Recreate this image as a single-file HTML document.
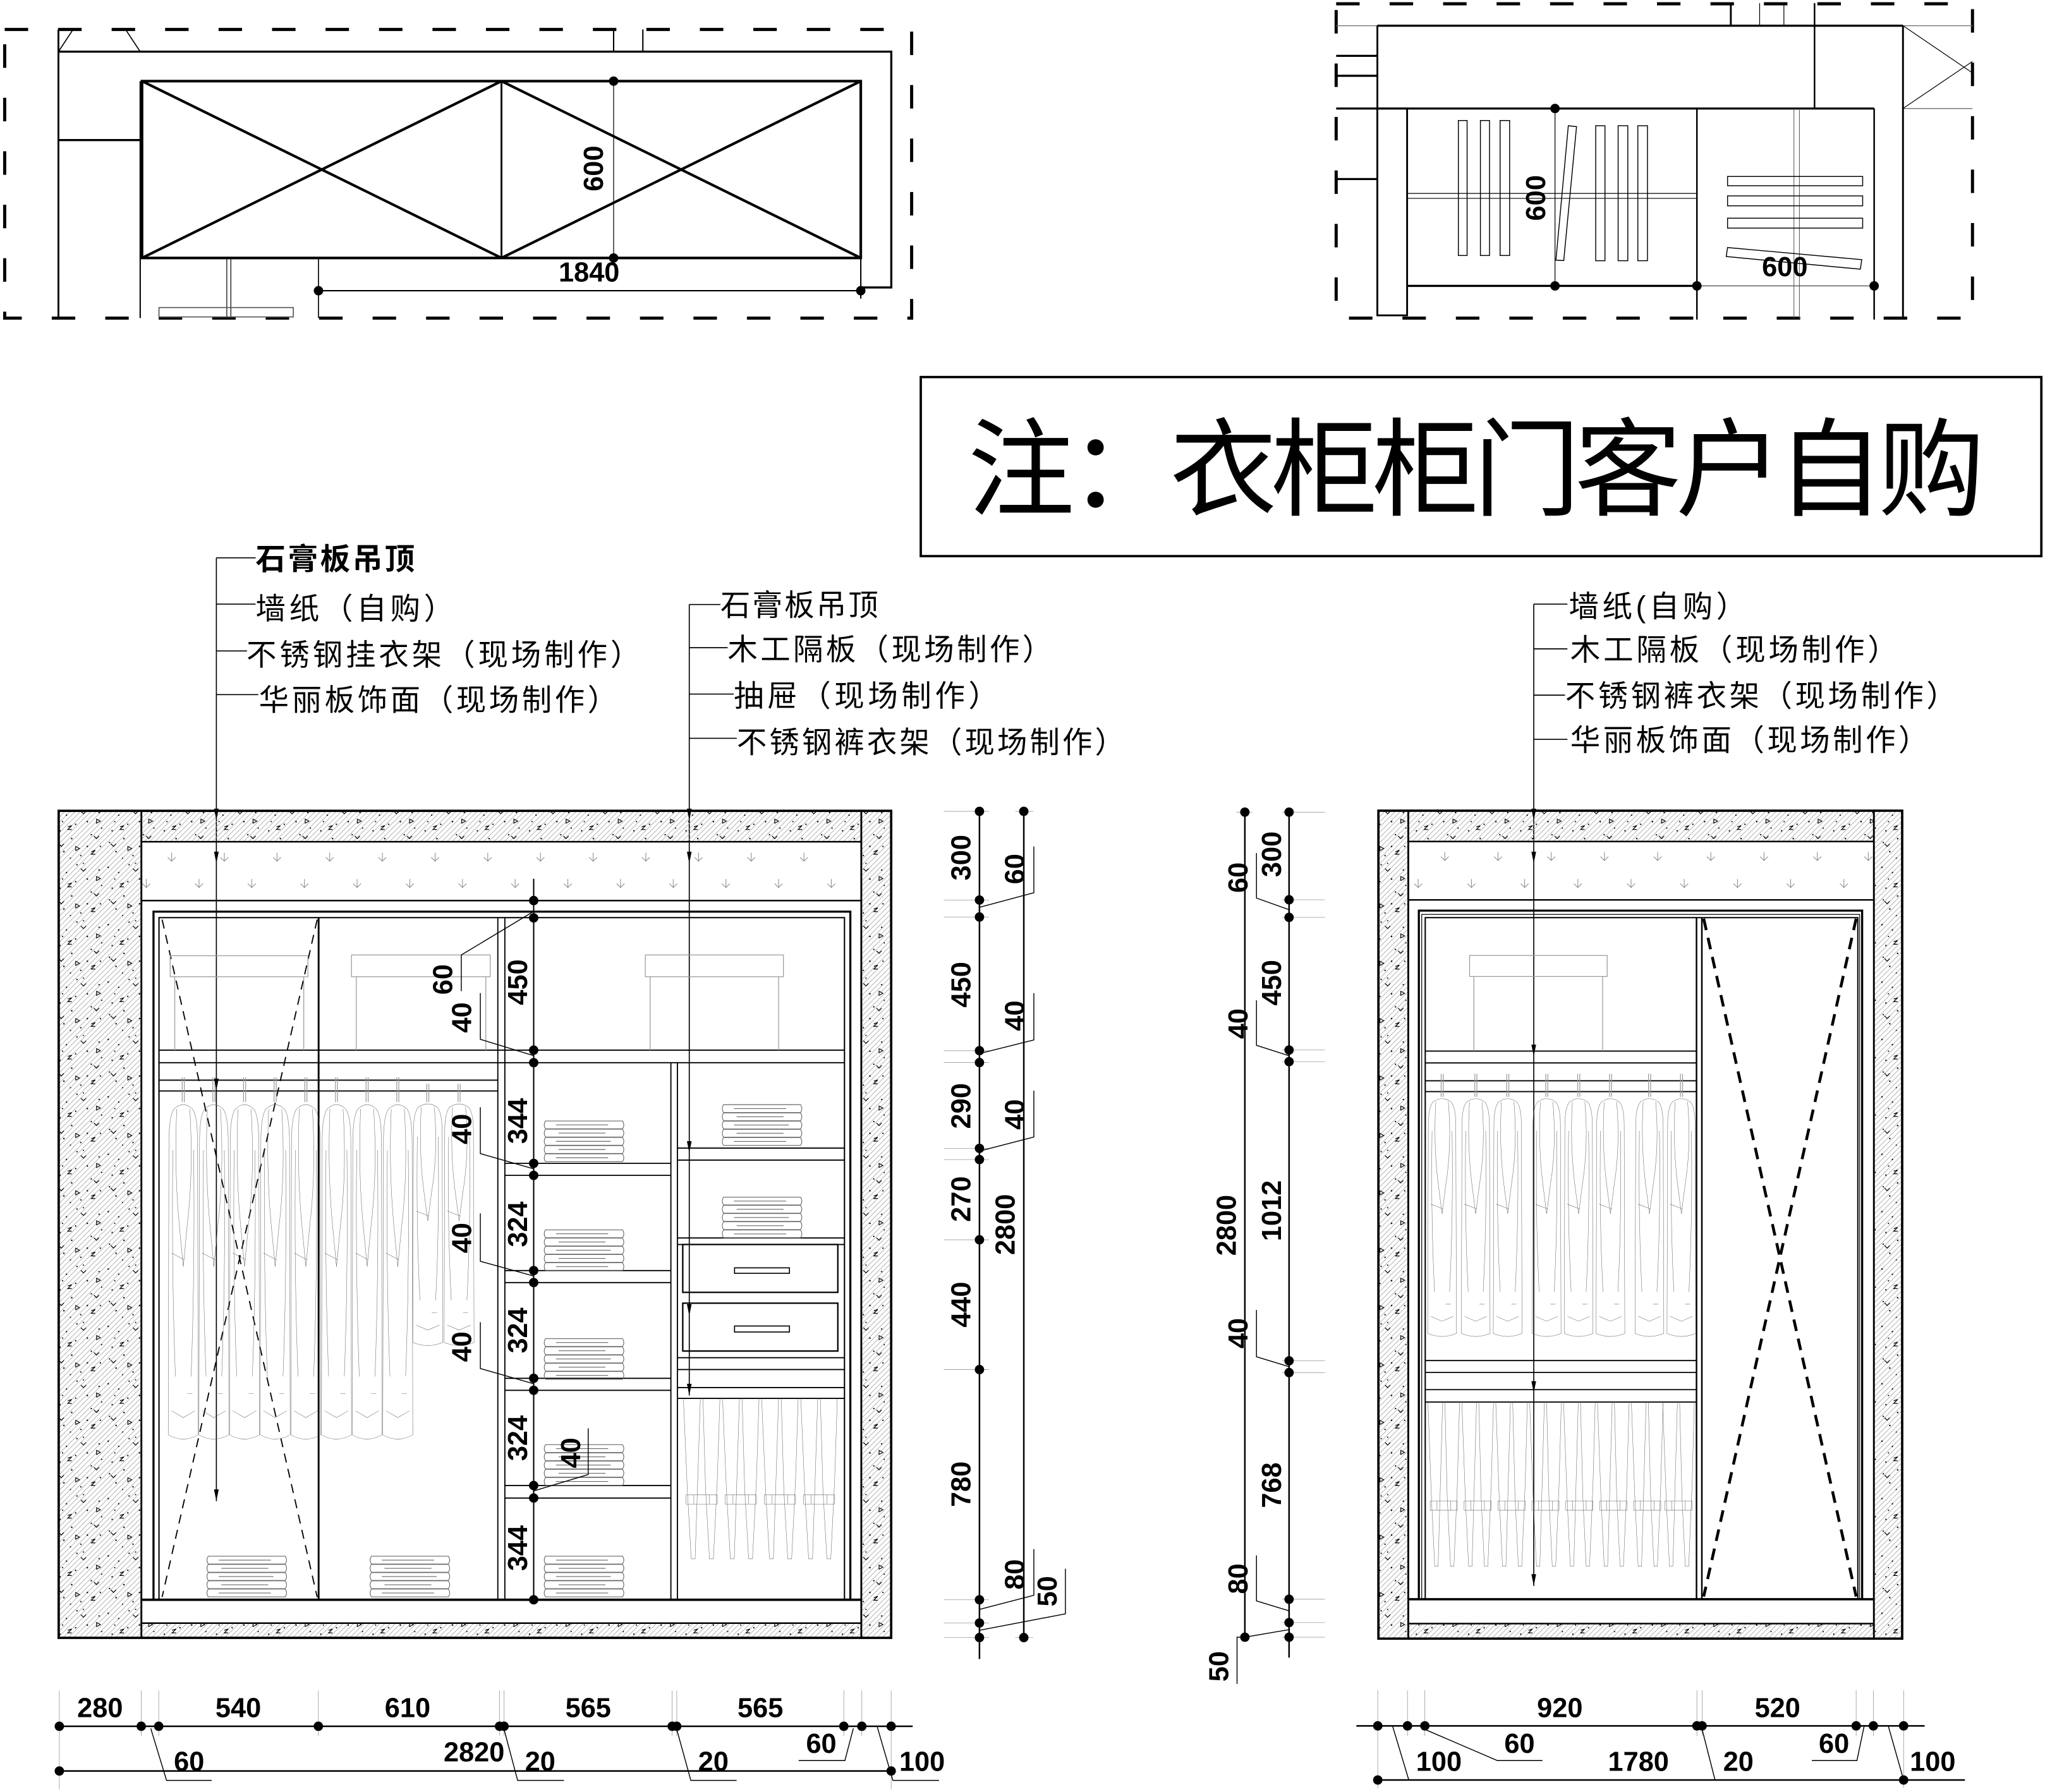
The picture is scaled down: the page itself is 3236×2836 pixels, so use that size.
<!DOCTYPE html>
<html><head><meta charset="utf-8"><title>衣柜立面图</title>
<style>
html,body{margin:0;padding:0;background:#fff;}
svg{display:block;}
.d{font-family:"Liberation Sans",sans-serif;font-weight:bold;font-size:21px;fill:#000;}
.c{font-family:"Liberation Sans","Noto Sans CJK SC",sans-serif;font-size:23px;fill:#000;}
</style></head>
<body>
<svg xmlns="http://www.w3.org/2000/svg" xmlns:xlink="http://www.w3.org/1999/xlink" width="3236" height="2836" viewBox="0 0 1568 1374" preserveAspectRatio="none">
<defs>
<pattern id="ht" patternUnits="userSpaceOnUse" width="4" height="4"><path d="M-1,5 L5,-1 M-1,1 L1,-1 M3,5 L5,3" stroke="#a2a2a2" stroke-width="0.38"/></pattern>
<pattern id="sp" patternUnits="userSpaceOnUse" width="40" height="44">
<g fill="#000"><circle cx="3" cy="5" r="0.6"/><circle cx="11" cy="9" r="0.55"/><circle cx="19" cy="3" r="0.55"/><circle cx="27" cy="14" r="0.6"/><circle cx="36" cy="7" r="0.55"/><circle cx="6" cy="21" r="0.55"/><circle cx="15" cy="27" r="0.6"/><circle cx="30" cy="24" r="0.55"/><circle cx="37" cy="33" r="0.55"/><circle cx="9" cy="37" r="0.6"/><circle cx="22" cy="40" r="0.55"/><circle cx="4" cy="30" r="0.55"/><circle cx="18" cy="16" r="0.55"/><circle cx="27" cy="33" r="0.6"/><circle cx="38" cy="19" r="0.5"/><circle cx="14" cy="42" r="0.5"/><circle cx="24" cy="2" r="0.5"/><circle cx="8" cy="14" r="0.5"/></g>
<path d="M12,18 l3,-1 l-3,3 l3,0 M30,37 l3,-1 l-3,3 l3,0 M22,6 l2,2 l2,-2 M5,31 l2,2 l2,-2 M32,25 l2,2 l2,-2" stroke="#000" stroke-width="0.6" fill="none"/>
<path d="M34,12 l3,1.6 l-3,1.6 z M18,33 l3,1.6 l-3,1.6 z" stroke="#000" stroke-width="0.55" fill="none"/>
</pattern>
<path id="vs" d="M0,-3.5 V3 M-3,0 L0,3 L3,0" stroke="#8a8a8a" fill="none" stroke-width="0.5"/>
<path id="ar" d="M-1.8,-9 L1.8,-9 L0,0 Z" fill="#000"/>
<symbol id="coat" viewBox="0 0 24 100" preserveAspectRatio="none" overflow="visible">
<path d="M5,2 Q12,-0.5 19,2 Q23,4 23,12 L23.5,97 Q12,99.5 0.5,97 L1,12 Q1,4 5,2 Z M7,2 Q5,20 9,36 M17,2 Q20,20 15,36 M9,36 L12,48 L15,36 M4,14 Q3,50 6,80 M20,14 Q21,50 18,80 M3,90 L12,92 L21,90 M15,85 h4 M3,44 L13,46" fill="none" stroke="#666" stroke-width="0.55" vector-effect="non-scaling-stroke"/>
</symbol>
<symbol id="pant" viewBox="0 0 30 125" preserveAspectRatio="none" overflow="visible">
<path d="M1,0 L4,70 L7,123 L10,123 L12,62 L14,0 M16,0 L18,70 L21,123 L24,123 L27,62 L29,0 M3,74 H27 V81 H3 Z M9,74 V81 M21,74 V81" fill="none" stroke="#666" stroke-width="0.55" vector-effect="non-scaling-stroke"/>
</symbol>
<g id="stk" fill="none" stroke="#6a6a6a" stroke-width="0.55">
<path d="M2,0 Q0,3 2,6 H61 Q63,3 61,0 Z M2,6.3 Q0,9.3 2,12.3 H61 Q63,9.3 61,6.3 Z M2,12.6 Q0,15.6 2,18.6 H61 Q63,15.6 61,12.6 Z M2,18.9 Q0,21.9 2,24.9 H61 Q63,21.9 61,18.9 Z M2,25.2 Q0,28.2 2,31.2 H61 Q63,28.2 61,25.2 Z M10,3 H50 M12,9.3 H48 M10,15.6 H52 M12,21.9 H48 M10,28.2 H50"/>
</g>
</defs>
<rect x="0" y="0" width="1568" height="1374" fill="#fff"/>

<!-- ================= TOP-LEFT PLAN ================= -->
<g fill="none" stroke="#000">
<rect x="3.6" y="22.6" width="695.4" height="221.3" stroke-width="2.4" stroke-dasharray="18 23"/>
<path d="M44.8,22.6 V243.9" stroke-width="1.4"/>
<path d="M44.8,39.6 H683.4 V220.4 H660" stroke-width="1.6"/>
<path d="M44.8,39.6 L56,22.6 M107.5,39.6 L96.3,22.6" stroke-width="0.8"/>
<path d="M470.5,22.6 V39.6 M492.9,22.6 V39.6" stroke-width="1"/>
<path d="M44.8,107.4 H107.5" stroke-width="1.6"/>
<path d="M107.5,62.2 V243.9" stroke-width="1"/>
<rect x="108.9" y="62.2" width="551.1" height="135.6" stroke-width="2"/>
<path d="M384.5,62.2 V197.8" stroke-width="1.4"/>
<path d="M108.9,62.2 L384.5,197.8 M384.5,62.2 L108.9,197.8 M384.5,62.2 L660,197.8 M660,62.2 L384.5,197.8" stroke-width="2"/>
<path d="M470.5,62.2 V197.8" stroke-width="0.6"/>
<path d="M173.9,197.8 V243.9 M177,197.8 V243.9" stroke-width="0.6"/>
<rect x="121.9" y="235.8" width="103" height="7.2" stroke="#555" stroke-width="0.8"/>
<path d="M244.2,197.8 V243.9" stroke-width="0.8"/>
<path d="M244.2,222.9 H660 M660,197.8 V229" stroke-width="1"/>
</g>
<g fill="#000"><circle cx="470.5" cy="62.2" r="3.6"/><circle cx="470.5" cy="197.8" r="3.6"/><circle cx="244.2" cy="222.9" r="3.6"/><circle cx="660" cy="222.9" r="3.6"/></g>
<text class="d" text-anchor="middle" transform="translate(462.3,129.2) rotate(-90)">600</text>
<text class="d" x="451.7" y="215.8" text-anchor="middle">1840</text>

<!-- ================= TOP-RIGHT PLAN ================= -->
<g fill="none" stroke="#000">
<rect x="1024.5" y="2.9" width="487.9" height="241" stroke-width="2.4" stroke-dasharray="18 23"/>
<path d="M1024.5,19.7 H1056.1 M1459.1,19.7 H1512.4 M1459.1,83.2 H1512.4" stroke="#777" stroke-width="0.7"/>
<path d="M1056.1,19.7 H1459.1" stroke-width="1.6"/>
<path d="M1056.1,19.7 V241.8" stroke-width="1.4"/>
<rect x="1056.1" y="83.2" width="22.8" height="158.6" stroke-width="1.4"/>
<path d="M1391.3,2.4 V83.2" stroke-width="1.2"/>
<path d="M1327.1,2.4 V19.7" stroke-width="1.4"/>
<path d="M1349.2,2.4 V19.7 M1367.8,2.4 V19.7" stroke-width="0.6"/>
<path d="M1459.1,19.7 V243.9" stroke-width="1.4"/>
<path d="M1459.1,19.7 L1512.4,55.9 M1459.1,83.2 L1512.4,47.1" stroke-width="0.6"/>
<path d="M1024.5,83.2 H1437" stroke-width="1.6"/>
<path d="M1024.5,42.8 H1056.1 M1024.5,58.1 H1056.1 M1024.5,137.3 H1056.1" stroke-width="1.6"/>
<path d="M1301.1,83.2 V245 M1437,83.2 V245" stroke-width="1.2"/>
<path d="M1078.9,219.2 H1301.1" stroke-width="1.6"/>
<path d="M1301.1,219.2 H1437" stroke="#555" stroke-width="0.7"/>
<path d="M1192.3,83.2 V219.2" stroke-width="0.6"/>
<path d="M1078.9,148.3 H1301.1 M1078.9,152.1 H1301.1" stroke-width="0.6"/>
<path d="M1375.5,83.2 V244 M1379.7,83.2 V244" stroke="#555" stroke-width="0.5"/>
<g stroke-width="0.7">
<rect x="1118.2" y="92.4" width="6.7" height="103.5"/><rect x="1135.1" y="92.4" width="7" height="103.5"/><rect x="1150.2" y="92.4" width="7.3" height="103.5"/>
<rect x="1223.5" y="96.4" width="7.1" height="103.5"/><rect x="1240.7" y="96.4" width="7.4" height="103.5"/><rect x="1255.8" y="96.4" width="7.4" height="103.5"/>
<path d="M1202.5,96.4 L1208.8,97.1 L1199,199.8 L1193,199.5 Z"/>
<rect x="1324.6" y="135.3" width="103.6" height="7.1"/><rect x="1324.6" y="150.2" width="103.6" height="7.6"/><rect x="1324.6" y="167.3" width="103.6" height="7.6"/>
<path d="M1324.6,189.8 L1427.5,199.1 L1426.4,206.4 L1323.6,196.7 Z"/>
</g>
</g>
<g fill="#000"><circle cx="1192.3" cy="83.2" r="3.6"/><circle cx="1192.3" cy="219.2" r="3.6"/><circle cx="1301.1" cy="219.2" r="3.6"/><circle cx="1437" cy="219.2" r="3.6"/></g>
<text class="d" text-anchor="middle" transform="translate(1184.8,151.8) rotate(-90)">600</text>
<text class="d" x="1368.5" y="211.8" text-anchor="middle">600</text>

<!-- ================= NOTE BOX ================= -->
<rect x="706" y="289.1" width="859.2" height="137.3" fill="none" stroke="#000" stroke-width="1.8"/>
<text class="c" x="742" y="389" style="font-size:82px" textLength="780" lengthAdjust="spacing">注：衣柜柜门客户自购</text>

<!-- ================= LEFT LABELS ================= -->
<text class="c" x="196" y="436.7" font-weight="bold" textLength="122" lengthAdjust="spacing">石膏板吊顶</text>
<text class="c" x="196" y="474.7" textLength="152" lengthAdjust="spacing">墙纸（自购）</text>
<text class="c" x="189" y="510.2" textLength="302" lengthAdjust="spacing">不锈钢挂衣架（现场制作）</text>
<text class="c" x="198.5" y="544.9" textLength="275" lengthAdjust="spacing">华丽板饰面（现场制作）</text>
<path d="M165.9,427.7 V1151 M165.9,427.7 H196 M165.9,463.2 H196 M165.9,499.1 H189.4 M165.9,532.6 H198" stroke="#000" stroke-width="0.8" fill="none"/>

<text class="c" x="552.4" y="472.2" textLength="121" lengthAdjust="spacing">石膏板吊顶</text>
<text class="c" x="557.9" y="506.1" textLength="249" lengthAdjust="spacing">木工隔板（现场制作）</text>
<text class="c" x="562.6" y="541.7" textLength="203" lengthAdjust="spacing">抽屉（现场制作）</text>
<text class="c" x="564.9" y="577.2" textLength="297.6" lengthAdjust="spacing">不锈钢裤衣架（现场制作）</text>
<path d="M528.5,463.5 V1070 M528.5,463.5 H552.4 M528.5,496.6 H557.9 M528.5,532.2 H562.6 M528.5,566.1 H564.9" stroke="#000" stroke-width="0.8" fill="none"/>

<text class="c" x="1202.9" y="473.1" textLength="136" lengthAdjust="spacing">墙纸(自购）</text>
<text class="c" x="1204" y="506.2" textLength="251" lengthAdjust="spacing">木工隔板（现场制作）</text>
<text class="c" x="1200.1" y="541.7" textLength="300" lengthAdjust="spacing">不锈钢裤衣架（现场制作）</text>
<text class="c" x="1204" y="575.6" textLength="274.6" lengthAdjust="spacing">华丽板饰面（现场制作）</text>
<path d="M1176,463.2 V1216 M1176,463.2 H1201.8 M1176,497.5 H1201.8 M1176,533 H1200 M1176,566.9 H1201.8" stroke="#000" stroke-width="0.8" fill="none"/>

<!-- ================= LEFT ELEVATION ================= -->
<g>
<rect x="45" y="621.7" width="63.4" height="634.1" fill="url(#ht)"/>
<rect x="45" y="621.7" width="63.4" height="634.1" fill="url(#sp)"/>
<rect x="660.4" y="621.7" width="22.9" height="634.1" fill="url(#ht)"/>
<rect x="660.4" y="621.7" width="22.9" height="634.1" fill="url(#sp)"/>
<rect x="108.4" y="621.7" width="552" height="23.7" fill="url(#ht)"/>
<rect x="108.4" y="621.7" width="552" height="23.7" fill="url(#sp)"/>
<rect x="108.4" y="1244.5" width="552" height="11.3" fill="url(#ht)"/>
<rect x="108.4" y="1244.5" width="552" height="11.3" fill="url(#sp)"/>
</g>
<g>
<use href="#vs" x="131.6" y="657.3"/><use href="#vs" x="172" y="657.3"/><use href="#vs" x="212.4" y="657.3"/><use href="#vs" x="252.8" y="657.3"/><use href="#vs" x="293.2" y="657.3"/><use href="#vs" x="333.6" y="657.3"/><use href="#vs" x="374" y="657.3"/><use href="#vs" x="414.4" y="657.3"/><use href="#vs" x="454.8" y="657.3"/><use href="#vs" x="495.2" y="657.3"/><use href="#vs" x="535.6" y="657.3"/><use href="#vs" x="576" y="657.3"/><use href="#vs" x="616.4" y="657.3"/>
<use href="#vs" x="112.2" y="677.5"/><use href="#vs" x="152.6" y="677.5"/><use href="#vs" x="193" y="677.5"/><use href="#vs" x="233.4" y="677.5"/><use href="#vs" x="273.8" y="677.5"/><use href="#vs" x="314.2" y="677.5"/><use href="#vs" x="354.6" y="677.5"/><use href="#vs" x="395" y="677.5"/><use href="#vs" x="435.4" y="677.5"/><use href="#vs" x="475.8" y="677.5"/><use href="#vs" x="516.2" y="677.5"/><use href="#vs" x="556.6" y="677.5"/><use href="#vs" x="597" y="677.5"/><use href="#vs" x="637.4" y="677.5"/>
</g>
<g fill="none" stroke="#000">
<rect x="45" y="621.7" width="638.3" height="634.1" stroke-width="1.8"/>
<path d="M108.4,621.7 V1255.8 M660.4,621.7 V1255.8" stroke-width="1.4"/>
<path d="M108.4,645.4 H660.4 M108.4,1244.5 H660.4" stroke-width="1.2"/>
<path d="M108.4,690.5 H660.4" stroke-width="1.2"/>
<path d="M117.7,1226.6 V699 H652 V1226.6" stroke-width="1.6"/>
<path d="M121.9,1226.6 V703.6 H647.5 V1226.6" stroke-width="1"/>
<path d="M108.4,1226.6 H660.4" stroke-width="1.8"/>
<path d="M244.3,703.6 V1226.6" stroke-width="1.4"/>
<path d="M381.7,703.6 V1226.6 M387.1,703.6 V1226.6" stroke-width="0.9"/>
<path d="M121.9,805.2 H647.5 M121.9,814.8 H647.5" stroke-width="0.9"/>
<path d="M121.9,828.2 H381.7 M121.9,836.5 H381.7" stroke-width="0.9"/>
<path d="M514.4,814.8 V1226.6 M519.4,814.8 V1226.6" stroke-width="0.9"/>
<path d="M387.1,892 H514.4 M387.1,901.2 H514.4 M387.1,974.2 H514.4 M387.1,983.4 H514.4 M387.1,1056.8 H514.4 M387.1,1066 H514.4 M387.1,1139 H514.4 M387.1,1148.6 H514.4" stroke-width="0.9"/>
<path d="M519.4,880.3 H647.5 M519.4,889.5 H647.5 M519.4,949.2 H647.5 M519.4,954.2 H647.5 M519.4,1041 H647.5 M519.4,1050.1 H647.5 M519.4,1063.9 H647.5 M519.4,1072.2 H647.5" stroke-width="0.9"/>
<rect x="523.5" y="954.2" width="118.9" height="36.7" stroke-width="1.1"/>
<rect x="523.5" y="999.2" width="118.9" height="36.7" stroke-width="1.1"/>
<rect x="563.2" y="972.1" width="42.1" height="4.2" stroke-width="0.8"/>
<rect x="563.2" y="1016.7" width="42.1" height="4.6" stroke-width="0.8"/>
<path d="M124.3,705.1 L243.2,1224.5 M243.2,705.1 L124.3,1224.5" stroke-width="0.9" stroke-dasharray="7 5"/>
</g>
<g fill="none" stroke="#999" stroke-width="0.6">
<rect x="130.5" y="732.8" width="105.6" height="16.1"/><path d="M134,748.9 V805.2 M232.9,748.9 V805.2"/>
<rect x="269.5" y="732.2" width="106.4" height="16.7"/><path d="M273.2,748.9 V805.2 M372.5,748.9 V805.2"/>
<rect x="494.8" y="732.2" width="105.9" height="16.7"/><path d="M498.5,748.9 V805.2 M597,748.9 V805.2"/>
<path d="M139.7,826 V845 M141.3,826 V845 M163.2,826 V845 M164.8,826 V845 M186.7,826 V845 M188.3,826 V845 M210.2,826 V845 M211.8,826 V845 M233.7,826 V845 M235.3,826 V845 M257.2,826 V845 M258.8,826 V845 M280.7,826 V845 M282.3,826 V845 M304.2,826 V845 M305.8,826 V845 M327.2,831 V845 M328.8,831 V845 M351.2,831 V845 M352.8,831 V845"/>
</g>
<g>
<use href="#coat" x="128.5" y="845" width="24" height="263"/>
<use href="#coat" x="152" y="845" width="24" height="263"/>
<use href="#coat" x="175.5" y="845" width="24" height="263"/>
<use href="#coat" x="199" y="845" width="24" height="263"/>
<use href="#coat" x="222.5" y="845" width="24" height="263"/>
<use href="#coat" x="246" y="845" width="24" height="263"/>
<use href="#coat" x="269.5" y="845" width="24" height="263"/>
<use href="#coat" x="293" y="845" width="24" height="263"/>
<use href="#coat" x="316" y="845" width="24" height="190"/>
<use href="#coat" x="340" y="845" width="24" height="190"/>
<use href="#pant" x="523" y="1072.2" width="30" height="125"/>
<use href="#pant" x="553" y="1072.2" width="30" height="125"/>
<use href="#pant" x="583" y="1072.2" width="30" height="125"/>
<use href="#pant" x="613" y="1072.2" width="30" height="125"/>
<use href="#stk" x="416.3" y="859.5"/><use href="#stk" x="416.3" y="943"/><use href="#stk" x="416.3" y="1026.4"/><use href="#stk" x="416.3" y="1107.7"/><use href="#stk" x="416.3" y="1193.2"/>
<use href="#stk" x="552.8" y="847"/><use href="#stk" x="552.8" y="917.9"/>
<use href="#stk" x="157.7" y="1193.2"/><use href="#stk" x="282.8" y="1193.2"/>
</g>
<!-- leader arrows -->
<g>
<use href="#ar" x="165.9" y="629"/><use href="#ar" x="165.9" y="662"/><use href="#ar" x="165.9" y="836"/><use href="#ar" x="165.9" y="1151"/>
<use href="#ar" x="528.5" y="629"/><use href="#ar" x="528.5" y="662"/><use href="#ar" x="528.5" y="884"/><use href="#ar" x="528.5" y="1009"/><use href="#ar" x="528.5" y="1070"/>
</g>
<!-- internal dims -->
<path d="M409.2,673.8 V1226.6" stroke="#000" stroke-width="1" fill="none"/>
<g fill="#000"><circle cx="409.2" cy="690.5" r="3.6"/><circle cx="409.2" cy="703.8" r="3.6"/><circle cx="409.2" cy="805.2" r="3.6"/><circle cx="409.2" cy="814.8" r="3.6"/><circle cx="409.2" cy="892" r="3.6"/><circle cx="409.2" cy="901.2" r="3.6"/><circle cx="409.2" cy="974.2" r="3.6"/><circle cx="409.2" cy="983.4" r="3.6"/><circle cx="409.2" cy="1056.8" r="3.6"/><circle cx="409.2" cy="1066" r="3.6"/><circle cx="409.2" cy="1139" r="3.6"/><circle cx="409.2" cy="1148.6" r="3.6"/><circle cx="409.2" cy="1226.6" r="3.6"/></g>
<path d="M409.2,698.8 L353.7,732.2 V760 M368.3,761.4 V796.9 L409.2,809.4 M368.3,849 V884.5 L409.2,896.2 M368.3,930.4 V967.1 L409.2,978.4 M368.3,1013.8 V1049.3 L409.2,1061 M451,1095.2 V1130.6 L409.2,1143.2" stroke="#000" stroke-width="0.7" fill="none"/>
<g class="d" text-anchor="middle">
<text transform="translate(404.2,753.1) rotate(-90)">450</text>
<text transform="translate(404.2,859.5) rotate(-90)">344</text>
<text transform="translate(404.2,938.7) rotate(-90)">324</text>
<text transform="translate(404.2,1020.1) rotate(-90)">324</text>
<text transform="translate(404.2,1102.7) rotate(-90)">324</text>
<text transform="translate(404.2,1187) rotate(-90)">344</text>
<text transform="translate(346.6,751) rotate(-90)">60</text>
<text transform="translate(361.2,780.2) rotate(-90)">40</text>
<text transform="translate(361.2,865.7) rotate(-90)">40</text>
<text transform="translate(361.2,949.2) rotate(-90)">40</text>
<text transform="translate(361.2,1032.6) rotate(-90)">40</text>
<text transform="translate(444.7,1114) rotate(-90)">40</text>
</g>

<!-- ================= LEFT VERTICAL DIM CHAIN ================= -->
<g fill="none">
<path d="M751,622.1 V1272 M785,622.1 V1255.6" stroke="#000" stroke-width="1.2"/>
<path d="M723.6,622.1 H758.3 M723.6,690.1 H758.3 M723.6,703.1 H758.3 M723.6,805.6 H758.3 M723.6,814.7 H758.3 M723.6,880.5 H758.3 M723.6,889.1 H758.3 M723.6,950.6 H758.3 M723.6,1050.1 H758.3 M723.6,1226.6 H758.3 M723.6,1244.4 H758.3 M723.6,1255.6 H758.3 M778.5,622.1 H792.2 M778.5,1255.6 H792.2" stroke="#999" stroke-width="0.4"/>
<path d="M792.7,649 V684.5 L751,695.7 M792.7,761.5 V797.4 L751,807.8 M792.7,836.3 V871.8 L751,882.6 M792.7,1187.7 V1223.2 L751,1234 M816.9,1202.8 V1237.4 L751,1250" stroke="#000" stroke-width="0.7"/>
</g>
<g fill="#000"><circle cx="751" cy="622.1" r="3.6"/><circle cx="751" cy="690.1" r="3.6"/><circle cx="751" cy="703.1" r="3.6"/><circle cx="751" cy="805.6" r="3.6"/><circle cx="751" cy="814.7" r="3.6"/><circle cx="751" cy="880.5" r="3.6"/><circle cx="751" cy="889.1" r="3.6"/><circle cx="751" cy="950.6" r="3.6"/><circle cx="751" cy="1050.1" r="3.6"/><circle cx="751" cy="1226.6" r="3.6"/><circle cx="751" cy="1244.4" r="3.6"/><circle cx="751" cy="1255.6" r="3.6"/><circle cx="785" cy="622.1" r="3.6"/><circle cx="785" cy="1255.6" r="3.6"/></g>
<g class="d" text-anchor="middle">
<text transform="translate(744,657.6) rotate(-90)">300</text>
<text transform="translate(744,755) rotate(-90)">450</text>
<text transform="translate(744,848) rotate(-90)">290</text>
<text transform="translate(744,919.4) rotate(-90)">270</text>
<text transform="translate(744,1000.3) rotate(-90)">440</text>
<text transform="translate(744,1138) rotate(-90)">780</text>
<text transform="translate(777.9,938.9) rotate(-90)">2800</text>
<text transform="translate(785.2,666.3) rotate(-90)">60</text>
<text transform="translate(785.2,778.8) rotate(-90)">40</text>
<text transform="translate(785.2,854.5) rotate(-90)">40</text>
<text transform="translate(785.2,1207.2) rotate(-90)">80</text>
<text transform="translate(810.2,1220.1) rotate(-90)">50</text>
</g>

<!-- ================= RIGHT VERTICAL DIM CHAIN ================= -->
<g fill="none">
<path d="M954.5,622.7 V1255.3 M988.4,622.7 V1271" stroke="#000" stroke-width="1.2"/>
<path d="M948,622.7 H960 M983,622.7 H1015.9 M983,689.9 H1015.9 M983,703.4 H1015.9 M983,805.1 H1015.9 M983,814 H1015.9 M983,1043.4 H1015.9 M983,1052.4 H1015.9 M983,1226.2 H1015.9 M983,1244.1 H1015.9 M983,1255.3 H1015.9" stroke="#999" stroke-width="0.4"/>
<path d="M963.4,654.1 V688.6 L988.4,697.5 M963.4,767 V801.5 L988.4,809.5 M963.4,1004.4 V1040.3 L988.4,1047.9 M963.4,1192.6 V1227.5 L988.4,1235.1 M948.5,1291.1 V1255.3 L954.5,1255.3 L988.4,1249.5" stroke="#000" stroke-width="0.7"/>
</g>
<g fill="#000"><circle cx="954.5" cy="622.7" r="3.6"/><circle cx="954.5" cy="1255.3" r="3.6"/><circle cx="988.4" cy="622.7" r="3.6"/><circle cx="988.4" cy="689.9" r="3.6"/><circle cx="988.4" cy="703.4" r="3.6"/><circle cx="988.4" cy="805.1" r="3.6"/><circle cx="988.4" cy="814" r="3.6"/><circle cx="988.4" cy="1043.4" r="3.6"/><circle cx="988.4" cy="1052.4" r="3.6"/><circle cx="988.4" cy="1226.2" r="3.6"/><circle cx="988.4" cy="1244.1" r="3.6"/><circle cx="988.4" cy="1255.3" r="3.6"/></g>
<g class="d" text-anchor="middle">
<text transform="translate(956.4,672.9) rotate(-90)">60</text>
<text transform="translate(956.4,784.9) rotate(-90)">40</text>
<text transform="translate(947.5,939.5) rotate(-90)">2800</text>
<text transform="translate(956.4,1022.3) rotate(-90)">40</text>
<text transform="translate(956.4,1210.5) rotate(-90)">80</text>
<text transform="translate(941.8,1277.7) rotate(-90)">50</text>
<text transform="translate(982.2,655) rotate(-90)">300</text>
<text transform="translate(982.2,753.5) rotate(-90)">450</text>
<text transform="translate(982.2,928.3) rotate(-90)">1012</text>
<text transform="translate(982.2,1138.8) rotate(-90)">768</text>
</g>

<!-- ================= RIGHT ELEVATION ================= -->
<g>
<rect x="1056.9" y="621.6" width="22.9" height="634.8" fill="url(#ht)"/>
<rect x="1056.9" y="621.6" width="22.9" height="634.8" fill="url(#sp)"/>
<rect x="1436.8" y="621.6" width="21.7" height="634.8" fill="url(#ht)"/>
<rect x="1436.8" y="621.6" width="21.7" height="634.8" fill="url(#sp)"/>
<rect x="1079.8" y="621.6" width="357" height="23.6" fill="url(#ht)"/>
<rect x="1079.8" y="621.6" width="357" height="23.6" fill="url(#sp)"/>
<rect x="1079.8" y="1244.9" width="357" height="11.5" fill="url(#ht)"/>
<rect x="1079.8" y="1244.9" width="357" height="11.5" fill="url(#sp)"/>
</g>
<g>
<use href="#vs" x="1107.8" y="656.8"/><use href="#vs" x="1148.6" y="656.8"/><use href="#vs" x="1189.4" y="656.8"/><use href="#vs" x="1230.2" y="656.8"/><use href="#vs" x="1271" y="656.8"/><use href="#vs" x="1311.8" y="656.8"/><use href="#vs" x="1352.6" y="656.8"/><use href="#vs" x="1393.4" y="656.8"/><use href="#vs" x="1432.5" y="656.8"/>
<use href="#vs" x="1087.4" y="677.5"/><use href="#vs" x="1128.2" y="677.5"/><use href="#vs" x="1169" y="677.5"/><use href="#vs" x="1209.8" y="677.5"/><use href="#vs" x="1250.6" y="677.5"/><use href="#vs" x="1291.4" y="677.5"/><use href="#vs" x="1332.2" y="677.5"/><use href="#vs" x="1373" y="677.5"/><use href="#vs" x="1413.8" y="677.5"/>
</g>
<g fill="none" stroke="#000">
<rect x="1056.9" y="621.6" width="401.6" height="634.8" stroke-width="1.8"/>
<path d="M1079.8,621.6 V1256.4 M1436.8,621.6 V1256.4" stroke-width="1.4"/>
<path d="M1079.8,645.2 H1436.8 M1079.8,1244.9 H1436.8 M1079.8,690 H1436.8" stroke-width="1.2"/>
<path d="M1087.9,1226.2 V698.2 H1427.8 V1226.2" stroke-width="1.6"/>
<path d="M1090.1,1226.2 V701.1 H1425.9 V1226.2" stroke-width="0.6"/>
<path d="M1092.8,1226.2 V703.6 H1424.5 V1226.2" stroke-width="1"/>
<path d="M1079.8,1226.2 H1436.8" stroke-width="1.8"/>
<path d="M1300.8,703.6 V1226.2 M1304.9,703.6 V1226.2" stroke-width="1.2"/>
<path d="M1092.8,805.9 H1300.8 M1092.8,815 H1300.8 M1092.8,828.7 H1300.8 M1092.8,837 H1300.8 M1092.8,1043.2 H1300.8 M1092.8,1052.3 H1300.8 M1092.8,1065.5 H1300.8 M1092.8,1075 H1300.8" stroke-width="0.9"/>
<path d="M1306.3,704.4 L1423.2,1224.1 M1423.2,704.4 L1306.3,1224.1" stroke-width="2.2" stroke-dasharray="9 6"/>
</g>
<g fill="none" stroke="#999" stroke-width="0.6">
<rect x="1126.8" y="732.6" width="105.5" height="16.1"/><path d="M1130.1,748.7 V805.9 M1228.8,748.7 V805.9"/>
<path d="M1105,823.3 V841 M1106.6,823.3 V841 M1130.8,823.3 V841 M1132.4,823.3 V841 M1155.3,823.3 V841 M1156.9,823.3 V841 M1185.2,823.3 V841 M1186.8,823.3 V841 M1209.7,823.3 V841 M1211.3,823.3 V841 M1234.1,823.3 V841 M1235.7,823.3 V841 M1264,823.3 V841 M1265.6,823.3 V841 M1288.5,823.3 V841 M1290.1,823.3 V841"/>
</g>
<g>
<use href="#coat" x="1094.2" y="841" width="23" height="187"/>
<use href="#coat" x="1120" y="841" width="23" height="187"/>
<use href="#coat" x="1144.5" y="841" width="23" height="187"/>
<use href="#coat" x="1174.4" y="841" width="23" height="187"/>
<use href="#coat" x="1198.9" y="841" width="23" height="187"/>
<use href="#coat" x="1223.3" y="841" width="23" height="187"/>
<use href="#coat" x="1253.2" y="841" width="23" height="187"/>
<use href="#coat" x="1277.7" y="841" width="23" height="187"/>
<use href="#pant" x="1094" y="1075" width="26" height="128"/>
<use href="#pant" x="1120" y="1075" width="26" height="128"/>
<use href="#pant" x="1146" y="1075" width="26" height="128"/>
<use href="#pant" x="1172" y="1075" width="26" height="128"/>
<use href="#pant" x="1198" y="1075" width="26" height="128"/>
<use href="#pant" x="1224" y="1075" width="26" height="128"/>
<use href="#pant" x="1250" y="1075" width="26" height="128"/>
<use href="#pant" x="1274" y="1075" width="26" height="128"/>
</g>
<g>
<use href="#ar" x="1176" y="629"/><use href="#ar" x="1176" y="662"/><use href="#ar" x="1176" y="810"/><use href="#ar" x="1176" y="1068"/><use href="#ar" x="1176" y="1216"/>
</g>

<!-- ================= BOTTOM-LEFT DIMS ================= -->
<g fill="none">
<path d="M45.5,1323.6 H699.8 M45.5,1357.9 H683.3" stroke="#000" stroke-width="1.2"/>
<path d="M45.5,1296.2 V1372 M108.3,1296.2 V1330.9 M121.7,1296.2 V1330.9 M244.1,1296.2 V1330.9 M383,1296.2 V1330.9 M386.5,1296.2 V1330.9 M515.4,1296.2 V1330.9 M518.9,1296.2 V1330.9 M647,1296.2 V1330.9 M660.8,1296.2 V1330.9 M683.3,1296.2 V1372" stroke="#999" stroke-width="0.4"/>
<path d="M115.6,1325.2 L127.7,1365.1 H162.3 M386.5,1326 L396.9,1365.1 H432.4 M518.9,1326 L529.7,1365.1 H564.8 M654.3,1325.2 L647.8,1349.9 H612.4 M672.5,1323.6 L684.6,1365.1 H720" stroke="#000" stroke-width="0.7"/>
</g>
<g fill="#000"><circle cx="45.5" cy="1323.6" r="3.6"/><circle cx="108.3" cy="1323.6" r="3.6"/><circle cx="121.7" cy="1323.6" r="3.6"/><circle cx="244.1" cy="1323.6" r="3.6"/><circle cx="383" cy="1323.6" r="3.6"/><circle cx="386.5" cy="1323.6" r="3.6"/><circle cx="515.4" cy="1323.6" r="3.6"/><circle cx="518.9" cy="1323.6" r="3.6"/><circle cx="647" cy="1323.6" r="3.6"/><circle cx="660.8" cy="1323.6" r="3.6"/><circle cx="683.3" cy="1323.6" r="3.6"/><circle cx="45.5" cy="1357.9" r="3.6"/><circle cx="683.3" cy="1357.9" r="3.6"/></g>
<g class="d" text-anchor="middle">
<text x="76.7" y="1316.6">280</text>
<text x="182.7" y="1316.6">540</text>
<text x="312.5" y="1316.6">610</text>
<text x="451" y="1316.6">565</text>
<text x="583" y="1316.6">565</text>
<text x="145" y="1357.8">60</text>
<text x="363.5" y="1350.5">2820</text>
<text x="414.2" y="1357.8">20</text>
<text x="547" y="1357.8">20</text>
<text x="629.7" y="1344">60</text>
<text x="707" y="1357.8">100</text>
</g>

<!-- ================= BOTTOM-RIGHT DIMS ================= -->
<g fill="none">
<path d="M1040,1323.3 H1475.7 M1060,1364.8 H1506.6" stroke="#000" stroke-width="1.2"/>
<path d="M1056.4,1296 V1371 M1079.2,1296 V1331 M1092.5,1296 V1331 M1301.1,1296 V1331 M1305.1,1296 V1331 M1423.2,1296 V1331 M1436.4,1296 V1331 M1459.6,1296 V1371" stroke="#999" stroke-width="0.4"/>
<path d="M1067.8,1323.6 L1080.2,1364.8 M1092.5,1326 L1148.1,1349.9 H1182.7 M1305.1,1326 L1315,1364.8 M1429.3,1323.6 L1423.8,1349.9 H1389.2 M1447.9,1323.6 L1459.6,1364.8" stroke="#000" stroke-width="0.7"/>
</g>
<g fill="#000"><circle cx="1056.4" cy="1323.3" r="3.6"/><circle cx="1079.2" cy="1323.3" r="3.6"/><circle cx="1092.5" cy="1323.3" r="3.6"/><circle cx="1301.1" cy="1323.3" r="3.6"/><circle cx="1305.1" cy="1323.3" r="3.6"/><circle cx="1423.2" cy="1323.3" r="3.6"/><circle cx="1436.4" cy="1323.3" r="3.6"/><circle cx="1459.6" cy="1323.3" r="3.6"/><circle cx="1056.4" cy="1364.8" r="3.6"/><circle cx="1459.6" cy="1364.8" r="3.6"/></g>
<g class="d" text-anchor="middle">
<text x="1196" y="1316.6">920</text>
<text x="1362.9" y="1316.6">520</text>
<text x="1165.1" y="1344">60</text>
<text x="1103.3" y="1357.8">100</text>
<text x="1256.3" y="1357.8">1780</text>
<text x="1332.9" y="1357.8">20</text>
<text x="1406.2" y="1344">60</text>
<text x="1481.9" y="1357.8">100</text>
</g>
</svg>
</body></html>
